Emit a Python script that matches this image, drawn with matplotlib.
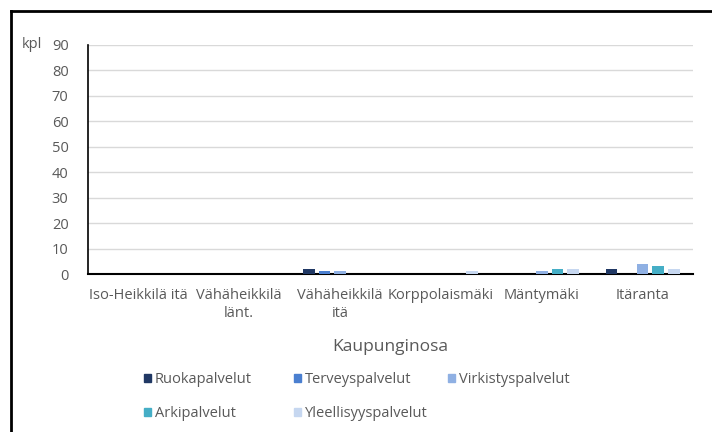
import matplotlib
matplotlib.use("Agg")
import matplotlib.pyplot as plt
from matplotlib.patches import Patch
import numpy as np

plt.rcParams['font.family'] = ['Open Sans', 'DejaVu Sans']

# data
districts = ["Iso-Heikkilä itä", "Vähäheikkilä\nlänt.", "Vähäheikkilä\nitä",
             "Korppolaismäki", "Mäntymäki", "Itäranta"]
services = ["Ruokapalvelut", "Terveyspalvelut", "Virkistyspalvelut",
            "Arkipalvelut", "Yleellisyyspalvelut"]
ruoka = [0, 0, 2, 0, 0, 2]
terveys = [0, 0, 1, 0, 0, 0]
virkistys = [0, 0, 1, 0, 1, 4]
arki = [0, 0, 0, 0, 2, 3]
yleellisyys = [0, 0, 0, 1, 2, 2]
yticks = list(range(0, 100, 10))

colors = ["#203864", "#4A7FD0", "#8FB0E3", "#45AEC6", "#C6D7F0"]
gray = "#595959"

fig = plt.figure(figsize=(7.12, 4.32), dpi=100)
ax = fig.add_axes([88/712, 1 - 274/432, 605/712, 229/432])

x = np.arange(len(districts))
step = 0.155
series = [ruoka, terveys, virkistys, arki, yleellisyys]
for i, vals in enumerate(series):
    ax.bar(x + (i - 2) * step, vals, width=0.115, color=colors[i], zorder=3)

ax.set_xlim(-0.5, len(districts) - 0.5)
ax.set_ylim(0, 90)
ax.set_yticks(yticks)
ax.yaxis.grid(True, color="#D9D9D9", linewidth=1, zorder=0)
ax.set_xticks(x)
ax.set_xticklabels(districts, fontsize=10.5, color=gray, linespacing=1.3)
ax.tick_params(axis="both", length=0, labelsize=10.5, labelcolor=gray)
ax.tick_params(axis="y", pad=14)
ax.tick_params(axis="x", pad=10)
for s in ["top", "right"]:
    ax.spines[s].set_visible(False)
ax.spines["left"].set_color("black")
ax.spines["bottom"].set_color("black")
ax.spines["left"].set_linewidth(1.2)
ax.spines["bottom"].set_linewidth(1.5)

ax.set_xlabel("Kaupunginosa", fontsize=12.5, color=gray, labelpad=13)
fig.text(22/712, 1 - 45/432, "kpl", fontsize=10.5, color=gray, va="center")

# legend, three columns like Excel
handles = [Patch(color=c) for c in colors]
cols = [[0, 3], [1, 4], [2]]
col_x = [144, 294, 448]
for cx, idx in zip(col_x, cols):
    fig.legend([handles[k] for k in idx], [services[k] for k in idx],
               loc="upper left", bbox_to_anchor=(cx/712, 1 - 372/432),
               frameon=False, fontsize=10.5, labelcolor=gray,
               handlelength=0.5, handleheight=0.5, handletextpad=0.25,
               labelspacing=1.3, borderpad=0, borderaxespad=0)

# outer chart frame
fig.add_artist(plt.Line2D([11/712, 11/712], [0, 1 - 11/432], color="black",
                          linewidth=2, transform=fig.transFigure))
fig.add_artist(plt.Line2D([11/712, 1], [1 - 11/432, 1 - 11/432], color="black",
                          linewidth=2, transform=fig.transFigure))

fig.savefig("out.png", dpi=100)
